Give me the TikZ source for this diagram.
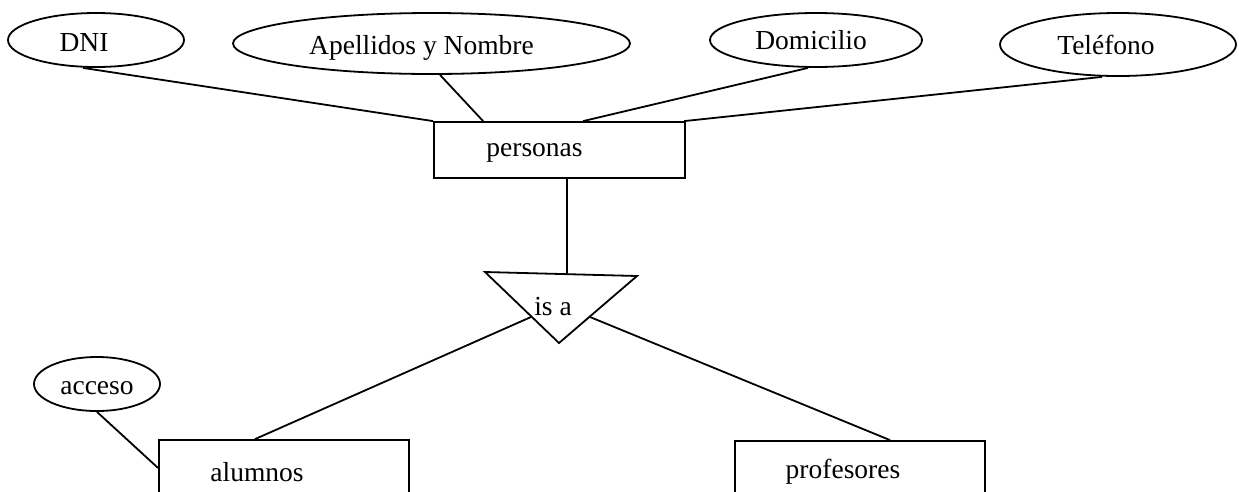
\documentclass[tikz,border=0pt]{standalone}
\usepackage{fontspec}
\setmainfont{Liberation Serif}
\usetikzlibrary{shapes.geometric}

\begin{document}
\begin{tikzpicture}[x=1pt, y=-1pt, line width=1.8pt,
		font=\fontsize{27.5}{33}\selectfont,
		atrib/.style={draw, ellipse, inner sep=0pt},
		entidad/.style={draw, rectangle, minimum width=251pt, minimum height=56pt, inner sep=0pt}]
	\useasboundingbox (0,0) rectangle (1239,491);

	% atributos de personas
	\node[atrib, minimum width=176pt, minimum height=54pt, label={[xshift=-12pt,yshift=-3pt]center:DNI}] (dni) at (96,40) {};
	\node[atrib, minimum width=397pt, minimum height=61pt, label={[xshift=-10pt,yshift=-4pt]center:Apellidos y Nombre}] (ape) at (431.5,43.5) {};
	\node[atrib, minimum width=212pt, minimum height=54pt, label={[xshift=-5pt]center:Domicilio}] (dom) at (816,40) {};
	\node[atrib, minimum width=236pt, minimum height=63pt, label={[xshift=-12pt]center:Teléfono}] (tel) at (1118,44.5) {};

	% entidades
	\node[entidad, label={[xshift=-25pt,yshift=-3pt]center:personas}] (persona) at (559.5,150) {};
	\node[entidad, minimum width=250pt, label={[xshift=-27pt,yshift=-4pt]center:alumnos}] (alumnos) at (284,468) {};
	\node[entidad, minimum width=250pt, label={[xshift=-17pt,yshift=-3pt]center:profesores}] (profesores) at (860,469) {};
	\node[atrib, minimum width=126pt, minimum height=54pt, label={[yshift=-4pt]center:acceso}] (acceso) at (97,384) {};

	\foreach \a/\sa/\p in {dni/-13/0, ape/8.5/50, dom/-8/150, tel/-16/251}
		\draw ([xshift=\sa pt]\a.south) -- ([xshift=\p pt]persona.north west);

	% is a
	\draw (485,272) -- (637,276) -- (559,343) -- cycle;
	\node (isa) at (553,307) {is a};
	\coordinate (isatop) at (567,274.2);
	\coordinate (isaizq) at (531,317);
	\coordinate (isader) at (590,317);

	\draw ([xshift=7.5pt]persona.south) -- (isatop);
	\draw (isaizq) -- ([xshift=-29pt]alumnos.north);
	\draw (isader) -- ([xshift=30pt]profesores.north);
	\draw (acceso.south) -- (alumnos.west);
\end{tikzpicture}
\end{document}
